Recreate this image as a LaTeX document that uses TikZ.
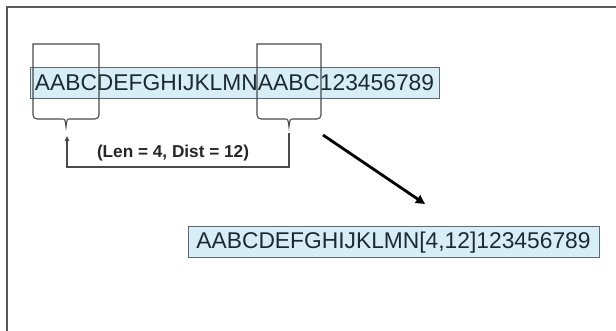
\documentclass[tikz,border=0pt]{standalone}
\usepackage{fontspec}
\setmainfont{Liberation Sans}
\usetikzlibrary{arrows.meta}
\definecolor{boxfill}{HTML}{D8EEF7}
\definecolor{boxline}{HTML}{5C6B72}
\definecolor{txt}{HTML}{1C2B33}
\definecolor{brk}{HTML}{4A4A4A}
\tikzset{
  strbox/.style={draw=boxline, line width=1pt, fill=boxfill, text=txt,
    font=\fontsize{22.8}{24}\selectfont, inner sep=0pt, minimum height=31pt},
  brace/.style={draw=brk, line width=1.1pt},
  link/.style={draw=brk, line width=1.1pt},
  lbl/.style={font=\bfseries\fontsize{17.2}{19}\selectfont, text=black!85, inner sep=0pt},
  bigarrow/.style={draw=black, line width=2.8pt, -{Triangle[length=9pt,width=9pt]}},
  frame/.style={draw=black!65, line width=1.5pt}
}
\begin{document}
\begin{tikzpicture}[x=1pt,y=-1pt]
\useasboundingbox (0,0) rectangle (616,331);
% frame (top and left edges visible)
\draw[frame] (7,331) -- (7,7) -- (616,7);
% strings
\node[strbox, minimum width=409pt] (s1) at (234.5,83) {AABCDEFGHIJKLMNAABC123456789};
\node[strbox, minimum width=411pt] (s2) at (393.5,242.5) {AABCDEFGHIJKLMN[4,12]123456789};
% braces
\coordinate (b1tip) at (66,127);
\coordinate (b2tip) at (289,127);
\draw[brace] (99,44) -- (33,44) -- (33,115) to[out=-90,in=180] (37,119) -- (62,119)
  .. controls (65,119) .. (b1tip) .. controls (67,119) .. (70,119)
  -- (95,119) to[out=0,in=-90] (99,115) -- cycle;
\draw[brace] (321,44) -- (257,44) -- (257,115) to[out=-90,in=180] (261,119) -- (285,119)
  .. controls (288,119) .. (b2tip) .. controls (290,119) .. (293,119)
  -- (317,119) to[out=0,in=-90] (321,115) -- cycle;
% link with label
\coordinate (l1) at (67,136);
\coordinate (l2) at (289,133);
\draw[link, -{Triangle[length=5pt,width=4.5pt]}] (l2) -- (289,167) -- (67,167) -- (l1);
\node[lbl] (len) at (173,153) {(Len = 4, Dist = 12)};
% big arrow
\coordinate (a1) at (323,135);
\coordinate (a2) at (425,204);
\draw[bigarrow] (a1) -- (a2);
\end{tikzpicture}
\end{document}
